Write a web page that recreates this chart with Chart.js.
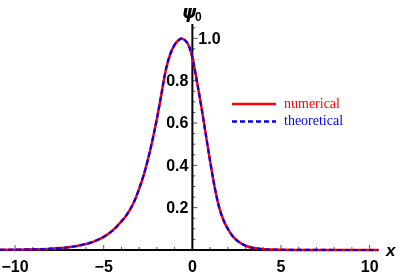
<!DOCTYPE html>
<html>
<head>
<meta charset="utf-8">
<script src="https://cdn.jsdelivr.net/npm/chart.js@4"></script>
<style>
  html, body { margin: 0; padding: 0; background: #fff; }
  #wrap { width: 399px; height: 276px; }
</style>
</head>
<body>
<div id="wrap"><canvas id="psi-chart"></canvas></div>
<script>
// data
const xValues = [-10.85, -10, -9, -8, -7, -6, -5.5, -5, -4.5, -4, -3.75, -3.5, -3.25, -3, -2.75, -2.5, -2.25, -2, -1.75, -1.5, -1.25, -1, -0.8, -0.6, -0.4, -0.2, 0, 0.25, 0.5, 0.75, 1, 1.25, 1.5, 1.75, 2, 2.25, 2.5, 3, 3.5, 4, 4.5, 5, 6, 7, 8, 9, 10, 10.5]
const numerical = [0.001, 0.0015, 0.003, 0.006, 0.013, 0.028, 0.042, 0.062, 0.092, 0.135, 0.161, 0.193, 0.235, 0.29, 0.353, 0.43, 0.52, 0.62, 0.735, 0.85, 0.925, 0.97, 0.99, 1.0, 0.99, 0.965, 0.91, 0.80, 0.68, 0.55, 0.42, 0.30, 0.205, 0.142, 0.10, 0.068, 0.046, 0.02, 0.009, 0.004, 0.002, 0.001, 0.0004, 0.0002, 0.0001, 0, 0, 0]
const theoretical = [0.001, 0.0015, 0.003, 0.006, 0.013, 0.028, 0.042, 0.062, 0.092, 0.135, 0.161, 0.193, 0.235, 0.29, 0.353, 0.43, 0.52, 0.62, 0.735, 0.85, 0.925, 0.97, 0.99, 1.0, 0.99, 0.965, 0.91, 0.80, 0.68, 0.55, 0.42, 0.30, 0.205, 0.142, 0.10, 0.068, 0.046, 0.02, 0.009, 0.004, 0.002, 0.001, 0.0004, 0.0002, 0.0001, 0, 0, 0]
const xTicks = [-10, -5, 0, 5, 10]
const xTickLabels = ['\u221210', '\u22125', '0', '5', '10']
const yTicks = [0.2, 0.4, 0.6, 0.8, 1.0]
const yTickLabels = ['0.2', '0.4', '0.6', '0.8', '1.0']

function toPoints(xs, ys){
  const data = []
  for (var i = 0; i < xs.length; i++) {
    data.push({ x: xs[i], y: ys[i] })
  }
  return data
}

// axes, ticks, labels and legend drawn by hand (Mathematica style)
const axesPlugin = {
  id: 'axesPlugin',
  beforeDatasetsDraw(chart) {
    const ctx = chart.ctx
    const xs = chart.scales.x
    const ys = chart.scales.y
    const x0 = xs.getPixelForValue(0)
    const y0 = ys.getPixelForValue(0)
    ctx.save()
    // minor / major ticks
    ctx.strokeStyle = '#555'
    ctx.lineWidth = 1
    for (var v = -10; v <= 10; v++) {
      if (v === 0) continue
      const px = xs.getPixelForValue(v)
      const len = (v % 5 === 0) ? 5 : 3
      ctx.beginPath()
      ctx.moveTo(px, y0)
      ctx.lineTo(px, y0 - len)
      ctx.stroke()
    }
    for (var k = 1; k <= 21; k++) {
      const val = k * 0.05
      const py = ys.getPixelForValue(val)
      const len = (k % 4 === 0) ? 5 : 3
      ctx.beginPath()
      ctx.moveTo(x0, py)
      ctx.lineTo(x0 + len, py)
      ctx.stroke()
    }
    // axis lines
    ctx.strokeStyle = '#000'
    ctx.lineWidth = 2
    ctx.beginPath()
    ctx.moveTo(0, y0)
    ctx.lineTo(xs.getPixelForValue(xs.max), y0)
    ctx.moveTo(x0, y0)
    ctx.lineTo(x0, ys.getPixelForValue(ys.max))
    ctx.stroke()
    ctx.restore()
  },
  afterDraw(chart) {
    const ctx = chart.ctx
    const xs = chart.scales.x
    const ys = chart.scales.y
    const x0 = xs.getPixelForValue(0)
    const y0 = ys.getPixelForValue(0)
    ctx.save()
    ctx.fillStyle = '#000'
    ctx.font = 'bold 16px "Liberation Sans", Arial, sans-serif'
    ctx.textBaseline = 'middle'
    ctx.textAlign = 'center'
    xTicks.forEach(function(v, i){
      ctx.fillText(xTickLabels[i], xs.getPixelForValue(v), y0 + 18)
    })
    yTicks.forEach(function(v, i){
      const py = ys.getPixelForValue(v)
      if (v >= 1) {
        ctx.textAlign = 'left'
        ctx.fillText(yTickLabels[i], x0 + 6, py + 1)
      } else {
        ctx.textAlign = 'right'
        ctx.fillText(yTickLabels[i], x0 - 4, py + 1)
      }
    })
    // axis names
    ctx.font = 'bold oblique 18px "DejaVu Sans", sans-serif'
    ctx.textAlign = 'left'
    ctx.fillText('\u03C8', 182, 13)
    ctx.font = 'bold 12px "Liberation Sans", Arial, sans-serif'
    ctx.fillText('0', 195, 18)
    ctx.font = 'bold italic 17px "Liberation Sans", Arial, sans-serif'
    ctx.fillText('x', 386, 251)

    // legend
    const items = chart.data.datasets
    const rows = [104, 121.5]
    items.forEach(function(ds, i){
      const y = rows[i]
      ctx.strokeStyle = ds.borderColor
      ctx.lineWidth = 2.5
      ctx.setLineDash(ds.borderDash || [])
      ctx.beginPath()
      ctx.moveTo(232, y)
      ctx.lineTo(276, y)
      ctx.stroke()
      ctx.setLineDash([])
      ctx.fillStyle = ds.borderColor
      ctx.font = '14px "Liberation Serif", "Times New Roman", serif'
      ctx.textAlign = 'left'
      ctx.fillText(ds.label, 284, y)
    })
    ctx.restore()
  }
}

const psiChart = document.getElementById('psi-chart')
new Chart(psiChart, {
  type: 'line',
  data: {
    datasets: [
      {
        label: 'numerical',
        data: toPoints(xValues, numerical),
        borderColor: 'rgb(255, 0, 0)',
        borderWidth: 2.5,
        pointRadius: 0,
        cubicInterpolationMode: 'monotone',
        fill: false,
        clip: 4,
        order: 2
      },
      {
        label: 'theoretical',
        data: toPoints(xValues, theoretical),
        borderColor: 'rgb(0, 0, 255)',
        borderWidth: 2.2,
        borderDash: [5, 3],
        pointRadius: 0,
        cubicInterpolationMode: 'monotone',
        fill: false,
        clip: 4,
        order: 1
      }
    ]
  },
  options: {
    responsive: true,
    maintainAspectRatio: false,
    animation: false,
    layout: { padding: { left: 0, right: 21, top: 24, bottom: 26 } },
    plugins: {
      legend: { display: false },
      tooltip: { enabled: false }
    },
    scales: {
      x: { type: 'linear', min: -10.85, max: 10.47, display: false },
      y: { min: 0, max: 1.068, display: false }
    }
  },
  plugins: [axesPlugin]
})
</script>
</body>
</html>
